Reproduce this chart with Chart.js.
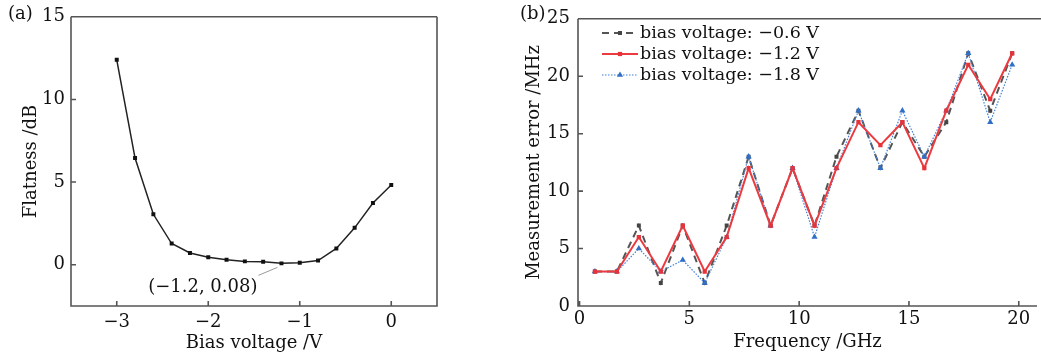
<!DOCTYPE html>
<html>
<head>
<meta charset="utf-8">
<script src="https://cdn.jsdelivr.net/npm/chart.js@4/dist/chart.umd.min.js"></script>
<style>
  body { margin: 0; background: #fff; width: 1041px; height: 357px; overflow: hidden; position: relative; }
  canvas { position: absolute; top: 0; }
  #chartA { left: 0; }
  #chartB { left: 520px; }
</style>
</head>
<body>
<canvas id="chartA" width="500" height="357"></canvas>
<canvas id="chartB" width="521" height="357"></canvas>
<script>
// (a) flatness vs bias voltage
const biasVoltage = [-3.0, -2.8, -2.6, -2.4, -2.2, -2.0, -1.8, -1.6, -1.4, -1.2, -1.0, -0.8, -0.6, -0.4, -0.2, 0.0];
const flatness = [12.4, 6.45, 3.05, 1.28, 0.71, 0.45, 0.30, 0.20, 0.18, 0.08, 0.12, 0.25, 0.98, 2.23, 3.73, 4.82];
const ticksAx = [-3, -2, -1, 0];
const ticksAy = [0, 5, 10, 15];

// (b) measurement error vs frequency
const frequency = [0.7, 1.7, 2.7, 3.7, 4.7, 5.7, 6.7, 7.7, 8.7, 9.7, 10.7, 11.7, 12.7, 13.7, 14.7, 15.7, 16.7, 17.7, 18.7, 19.7];
const errBias06 = [3, 3, 7, 2, 7, 2, 7, 13, 7, 12, 7, 13, 17, 12, 16, 13, 16, 22, 17, 22];
const errBias12 = [3, 3, 6, 3, 7, 3, 6, 12, 7, 12, 7, 12, 16, 14, 16, 12, 17, 21, 18, 22];
const errBias18 = [3, 3, 5, 3, 4, 2, 6, 13, 7, 12, 6, 12, 17, 12, 17, 13, 17, 22, 16, 21];
const seriesLabels = ['bias voltage: \u22120.6 V', 'bias voltage: \u22121.2 V', 'bias voltage: \u22121.8 V'];
const ticksBx = [0, 5, 10, 15, 20];
const ticksBy = [0, 5, 10, 15, 20, 25];

const FONT = 'DejaVu Serif';
const AXIS = '#555';
const minus = v => String(v).replace('-', '\u2212');
const pts = (xs, ys) => xs.map((x, i) => ({x: x, y: ys[i]}));
const setTicks = list => scale => { scale.ticks = list.map(v => ({value: v})); };

// axis box + inward tick marks + panel letter
const frame = {
  id: 'frame',
  afterDraw(chart, args, opts) {
    const {ctx, chartArea: a, scales} = chart;
    ctx.save();
    ctx.strokeStyle = AXIS;
    ctx.lineWidth = 1.6;
    ctx.beginPath();
    ctx.moveTo(a.left, a.top);
    ctx.lineTo(a.left, a.bottom);
    ctx.lineTo(a.right, a.bottom);
    if (opts.right) ctx.lineTo(a.right, a.top);
    ctx.moveTo(a.left, a.top);
    ctx.lineTo(opts.right ? a.right : chart.width, a.top);
    scales.x.ticks.forEach(t => {
      const px = scales.x.getPixelForValue(t.value);
      ctx.moveTo(px, a.bottom);
      ctx.lineTo(px, a.bottom - 5);
    });
    scales.y.ticks.forEach(t => {
      const py = scales.y.getPixelForValue(t.value);
      ctx.moveTo(a.left, py);
      ctx.lineTo(a.left + 5, py);
    });
    ctx.stroke();
    ctx.fillStyle = '#111';
    ctx.font = '18px "' + FONT + '"';
    ctx.textBaseline = 'middle';
    ctx.textAlign = 'left';
    ctx.fillText(opts.letter, opts.letterX, 14);
    ctx.restore();
  }
};

// label of the minimum point in (a)
const minLabel = {
  id: 'minLabel',
  afterDatasetsDraw(chart) {
    const {ctx, scales} = chart;
    let k = 0;
    flatness.forEach((v, i) => { if (v < flatness[k]) k = i; });
    const px = scales.x.getPixelForValue(biasVoltage[k]);
    const py = scales.y.getPixelForValue(flatness[k]);
    ctx.save();
    ctx.strokeStyle = '#999';
    ctx.lineWidth = 1;
    ctx.beginPath();
    ctx.moveTo(px - 23, py + 12);
    ctx.lineTo(px - 4, py + 4);
    ctx.stroke();
    ctx.fillStyle = '#111';
    ctx.font = '18px "' + FONT + '"';
    ctx.textAlign = 'right';
    ctx.textBaseline = 'middle';
    ctx.fillText('(' + minus(biasVoltage[k]) + ', ' + flatness[k] + ')', px - 24, py + 24);
    ctx.restore();
  }
};

// legend with line + marker samples in (b)
const lineLegend = {
  id: 'lineLegend',
  afterDraw(chart) {
    const {ctx} = chart;
    const rows = [33, 54, 75];
    chart.data.datasets.forEach((ds, i) => {
      const y = rows[i];
      ctx.save();
      ctx.strokeStyle = ds.borderColor;
      ctx.lineWidth = ds.borderWidth;
      ctx.setLineDash(ds.borderDash || []);
      ctx.beginPath();
      ctx.moveTo(82, y);
      ctx.lineTo(118, y);
      ctx.stroke();
      ctx.setLineDash([]);
      ctx.fillStyle = ds.pointBackgroundColor;
      Chart.helpers.drawPoint(ctx, {pointStyle: ds.pointStyle, radius: ds.pointRadius, rotation: 0, borderWidth: 0}, 100, y);
      ctx.fillStyle = '#111';
      ctx.font = '17.5px "' + FONT + '"';
      ctx.textBaseline = 'middle';
      ctx.textAlign = 'left';
      ctx.fillText(ds.label, 120, y);
      ctx.restore();
    });
  }
};

const tickFont = {family: FONT, size: 18};
const titleFont = {family: FONT, size: 18};

new Chart(document.getElementById('chartA'), {
  type: 'line',
  data: {
    datasets: [{
      data: pts(biasVoltage, flatness),
      borderColor: '#222',
      backgroundColor: '#111',
      borderWidth: 1.5,
      pointStyle: 'rect',
      pointRadius: 2.8,
      pointBorderWidth: 0,
      tension: 0
    }]
  },
  options: {
    responsive: false,
    devicePixelRatio: 1,
    animation: false,
    layout: {padding: {top: 12, right: 63, left: 0, bottom: 0}},
    plugins: {
      legend: {display: false},
      tooltip: {enabled: false},
      frame: {right: true, letter: '(a)', letterX: 8}
    },
    scales: {
      x: {
        type: 'linear', min: -3.5, max: 0.5,
        afterBuildTicks: setTicks(ticksAx),
        afterFit: s => { s.height = 51; },
        grid: {display: false, drawTicks: false},
        border: {display: false},
        ticks: {font: tickFont, color: '#111', padding: 6, callback: minus, maxRotation: 0},
        title: {display: true, text: 'Bias voltage /V', font: titleFont, color: '#111', padding: {top: 0, bottom: 3}}
      },
      y: {
        min: -2.5, max: 15,
        afterBuildTicks: setTicks(ticksAy),
        afterFit: s => { s.width = 71; },
        grid: {display: false, drawTicks: false},
        border: {display: false},
        ticks: {font: tickFont, color: '#111', padding: 6, callback: minus},
        title: {display: true, text: 'Flatness /dB', font: titleFont, color: '#111', padding: {top: 21, bottom: 0}}
      }
    }
  },
  plugins: [frame, minLabel]
});

new Chart(document.getElementById('chartB'), {
  type: 'line',
  data: {
    datasets: [
      {
        label: seriesLabels[0],
        data: pts(frequency, errBias06),
        borderColor: '#555',
        pointBackgroundColor: '#444',
        borderWidth: 2,
        borderDash: [7, 5],
        pointStyle: 'rect',
        pointRadius: 2.8,
        pointBorderWidth: 0,
        order: 3
      },
      {
        label: seriesLabels[1],
        data: pts(frequency, errBias12),
        borderColor: '#ec3b40',
        pointBackgroundColor: '#e8323a',
        borderWidth: 2,
        pointStyle: 'rect',
        pointRadius: 3,
        pointBorderWidth: 0,
        order: 1
      },
      {
        label: seriesLabels[2],
        data: pts(frequency, errBias18),
        borderColor: '#3f80d8',
        pointBackgroundColor: '#2f6fc8',
        borderWidth: 1.2,
        borderDash: [1.5, 1.5],
        pointStyle: 'triangle',
        pointRadius: 3.6,
        pointBorderWidth: 0,
        order: 2
      }
    ]
  },
  options: {
    responsive: false,
    devicePixelRatio: 1,
    animation: false,
    layout: {padding: {top: 12, right: 0, left: 0, bottom: 0}},
    plugins: {
      legend: {display: false},
      tooltip: {enabled: false},
      frame: {right: false, letter: '(b)', letterX: 0}
    },
    scales: {
      x: {
        type: 'linear', min: -0.07, max: 20.83,
        afterBuildTicks: setTicks(ticksBx),
        afterFit: s => { s.height = 51; },
        grid: {display: false, drawTicks: false},
        border: {display: false},
        ticks: {font: tickFont, color: '#111', padding: 3, maxRotation: 0},
        title: {display: true, text: 'Frequency /GHz', font: titleFont, color: '#111', padding: {top: 0, bottom: 4}}
      },
      y: {
        min: 0, max: 25,
        afterBuildTicks: setTicks(ticksBy),
        afterFit: s => { s.width = 58; },
        grid: {display: false, drawTicks: false},
        border: {display: false},
        ticks: {font: tickFont, color: '#111', padding: 8},
        title: {display: true, text: 'Measurement error /MHz', font: titleFont, color: '#111', padding: {top: 4, bottom: 0}}
      }
    }
  },
  plugins: [frame, lineLegend]
});
</script>
</body>
</html>
